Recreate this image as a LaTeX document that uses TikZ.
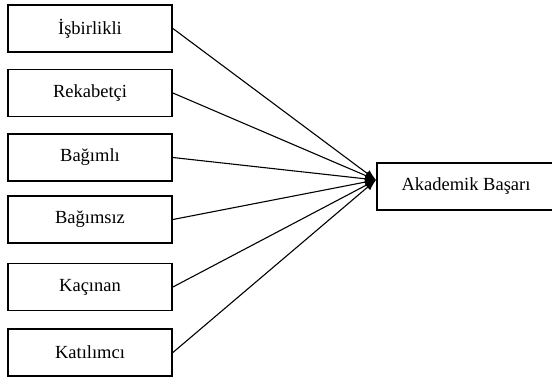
\documentclass[tikz,border=0pt]{standalone}
\usepackage{fontspec}
\setmainfont{Liberation Serif}
\usetikzlibrary{arrows.meta}
\begin{document}
\begin{tikzpicture}[x = 1pt, y = -1pt,
    kutu/.style = {draw = black, line width = 1.8pt, minimum width = 164pt, minimum height = 47pt, inner sep = 0pt, font = \fontsize{18.5}{22}\selectfont},
    ok/.style = {line width = 1.1pt, -{Latex[length = 11pt, width = 8pt]}}]
    \useasboundingbox (0,0) rectangle (552,378);
    \node [kutu] (isbirlikli) at (90,28.5) {İşbirlikli};
    \node [kutu] (rekabetci) at (90,93) {Rekabetçi};
    \node [kutu] (bagimli) at (90,157.5) {Bağımlı};
    \node [kutu] (bagimsiz) at (90,219.5) {Bağımsız};
    \node [kutu] (kacinan) at (90,287) {Kaçınan};
    \node [kutu] (katilimci) at (90,352.5) {Katılımcı};
    \node [kutu, minimum width = 178pt] (basari) at (466,186.5) {Akademik Başarı};
    \coordinate (uc) at (376,180);
    \draw [ok] (isbirlikli.east) -- (uc);
    \draw [ok] (rekabetci.east) -- (uc);
    \draw [ok] (bagimli.east) -- (uc);
    \draw [ok] (bagimsiz.east) -- (uc);
    \draw [ok] (kacinan.east) -- (uc);
    \draw [ok] (katilimci.east) -- (uc);
\end{tikzpicture}
\end{document}
